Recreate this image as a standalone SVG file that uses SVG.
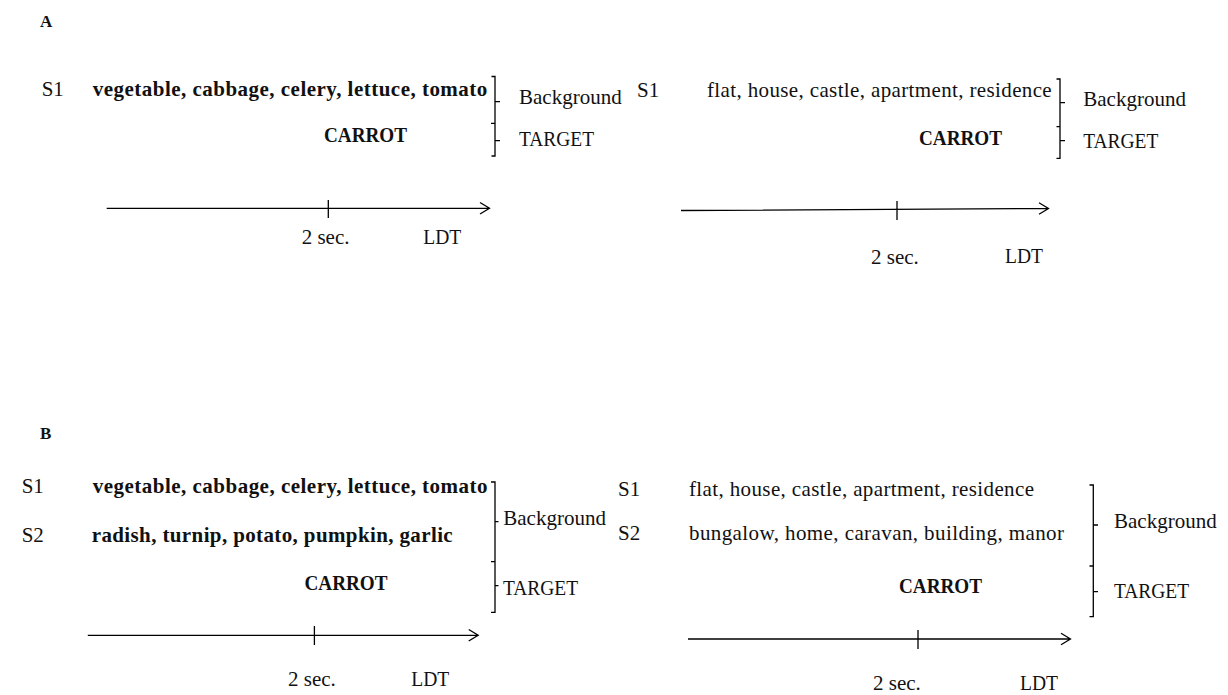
<svg xmlns="http://www.w3.org/2000/svg" width="1228" height="695" viewBox="0 0 1228 695">
<style>
text{font-family:"Liberation Serif","DejaVu Serif",serif;font-size:21px;fill:#111}
.b{font-weight:bold}
.panel{font-weight:bold;font-size:17px}
.ln{fill:none;stroke:#000;stroke-width:1.3}
</style>
<rect width="1228" height="695" fill="#fff"/>
<g id="label-A"><text class="panel" x="40" y="27">A</text></g>
<g id="label-B"><text class="panel" x="40" y="439">B</text></g>

<g id="A-left">
<text x="41.7" y="96">S1</text>
<text class="b" x="92.7" y="96" textLength="394.6" lengthAdjust="spacing">vegetable, cabbage, celery, lettuce, tomato</text>
<text class="b" x="324" y="142" textLength="83" lengthAdjust="spacingAndGlyphs">CARROT</text>
<text x="519" y="104">Background</text>
<text x="519" y="146" textLength="75" lengthAdjust="spacingAndGlyphs">TARGET</text>
<text x="301.7" y="243.5">2 sec.</text>
<text x="423.3" y="243.5" textLength="38" lengthAdjust="spacingAndGlyphs">LDT</text>
</g>

<g id="A-right">
<text x="637" y="97">S1</text>
<text x="707" y="97" textLength="344.7" lengthAdjust="spacing">flat, house, castle, apartment, residence</text>
<text class="b" x="919" y="145" textLength="83" lengthAdjust="spacingAndGlyphs">CARROT</text>
<text x="1083.3" y="106">Background</text>
<text x="1083.3" y="148.3" textLength="75" lengthAdjust="spacingAndGlyphs">TARGET</text>
<text x="871" y="264">2 sec.</text>
<text x="1005" y="263" textLength="38" lengthAdjust="spacingAndGlyphs">LDT</text>
</g>

<g id="B-left">
<text x="21.7" y="493">S1</text>
<text class="b" x="92.7" y="493" textLength="394.8" lengthAdjust="spacing">vegetable, cabbage, celery, lettuce, tomato</text>
<text x="21.7" y="541.5">S2</text>
<text class="b" x="91.7" y="541.5" textLength="361" lengthAdjust="spacing">radish, turnip, potato, pumpkin, garlic</text>
<text class="b" x="304.5" y="590" textLength="83" lengthAdjust="spacingAndGlyphs">CARROT</text>
<text x="503.3" y="525">Background</text>
<text x="503" y="595" textLength="75" lengthAdjust="spacingAndGlyphs">TARGET</text>
<text x="288" y="686">2 sec.</text>
<text x="411.2" y="686" textLength="38" lengthAdjust="spacingAndGlyphs">LDT</text>
</g>

<g id="B-right">
<text x="618" y="496">S1</text>
<text x="689" y="496" textLength="345" lengthAdjust="spacing">flat, house, castle, apartment, residence</text>
<text x="618" y="540">S2</text>
<text x="689" y="540" textLength="375" lengthAdjust="spacing">bungalow, home, caravan, building, manor</text>
<text class="b" x="899" y="593" textLength="83" lengthAdjust="spacingAndGlyphs">CARROT</text>
<text x="1114" y="528">Background</text>
<text x="1114" y="598" textLength="75" lengthAdjust="spacingAndGlyphs">TARGET</text>
<text x="873" y="690">2 sec.</text>
<text x="1020" y="690" textLength="38" lengthAdjust="spacingAndGlyphs">LDT</text>
</g>

<g id="connectors">
<!-- brackets -->
<path class="ln" d="M491.5,76.5 H495 V156 H491.5 M495,123.3 H491 M495,101.7 H500 M495,140.7 H500"/>
<path class="ln" d="M1056.5,79 H1060 V158.3 H1056.5 M1060,126.7 H1056.5 M1060,102.7 H1065 M1060,140.7 H1065"/>
<path class="ln" d="M491,482 H495 V612.3 H491 M495,561.7 H491 M495,521.7 H498.5 M495,585.7 H498.5"/>
<path class="ln" d="M1089.5,485 H1093.3 V616.7 H1089.5 M1093.3,566 H1089.5 M1093.3,525 H1098 M1093.3,591.7 H1098"/>
<!-- timelines -->
<path class="ln" d="M106.7,208.3 H489 M480,202.5 L489.5,208.3 L480,214 M328.3,200 V218"/>
<path class="ln" d="M681,210.5 L1048,208.5 M1039,202.8 L1048.5,208.5 L1039,214.3 M897,201 V220"/>
<path class="ln" d="M87.8,635.3 H477.7 M468.7,629.5 L478.2,635.3 L468.7,641 M314.4,626 V645"/>
<path class="ln" d="M688,639 H1070 M1061,633.2 L1070.5,639 L1061,644.8 M918,630 V649"/>
</g>
</svg>
